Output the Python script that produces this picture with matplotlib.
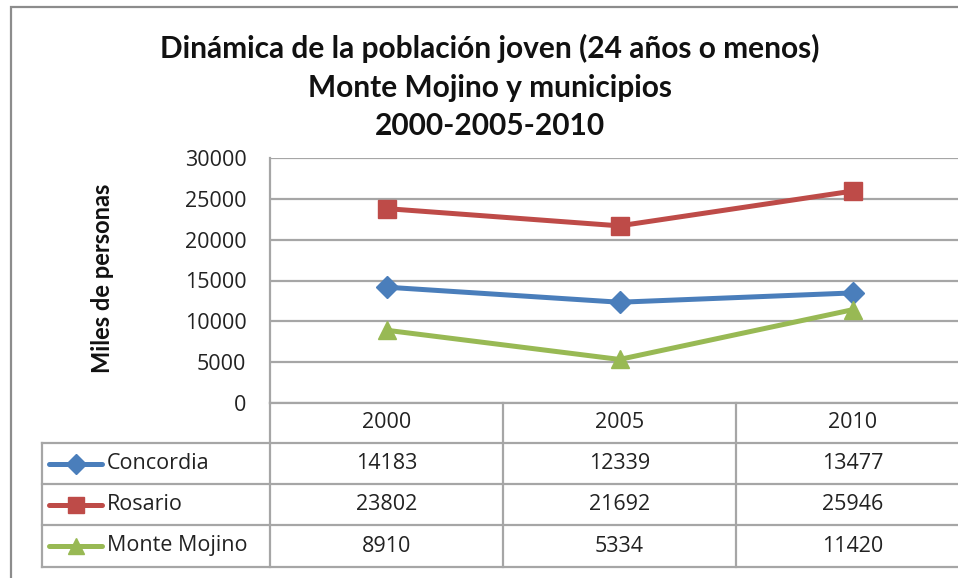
import matplotlib
matplotlib.use("Agg")
import matplotlib.pyplot as plt
from matplotlib.lines import Line2D
from matplotlib.patches import Rectangle
from matplotlib.transforms import blended_transform_factory

# Data
years = ["2000", "2005", "2010"]
series_names = ["Concordia", "Rosario", "Monte Mojino"]
concordia = [14183, 12339, 13477]
rosario = [23802, 21692, 25946]
monte_mojino = [8910, 5334, 11420]
y_ticks = [0, 5000, 10000, 15000, 20000, 25000, 30000]

series_values = [concordia, rosario, monte_mojino]
colors = ["#4A7EBB", "#BE4B48", "#98B954"]
markers = ["D", "s", "^"]
marker_sizes = [11, 13, 13]

W, H = 958, 578
DPI = 100
TITLE_FONT = "Lato"
BODY_FONT = "Open Sans"
BODY_SIZE = 15.5
GRID = "#A6A6A6"
TEXT = "#222222"

fig = plt.figure(figsize=(W / DPI, H / DPI), dpi=DPI)
fig.patch.set_facecolor("white")


def fx(px):
    return px / W


def fy(py):
    return 1 - py / H


# Outer chart frame (extends past the right and bottom edges)
fig.patches.append(Rectangle((fx(11), fy(640)), fx(1000), fy(7) - fy(640),
                             transform=fig.transFigure, fill=False,
                             edgecolor="#8C8C8C", linewidth=1.6))

# Plot area
left, right, top, bottom = 270, 969, 158, 403
ax = fig.add_axes([fx(left), fy(bottom), fx(right - left), fy(top) - fy(bottom)])
x = list(range(len(years)))
ax.set_xlim(-0.5, len(years) - 0.5)
ax.set_ylim(0, 30000)
ax.set_yticks(y_ticks)
ax.set_yticklabels([str(t) for t in y_ticks], fontsize=BODY_SIZE, family=BODY_FONT, color=TEXT)
ax.set_xticks([])
ax.tick_params(axis="y", length=0, pad=17)
ax.grid(axis="y", color=GRID, linewidth=1.6)
ax.set_axisbelow(True)
for side in ["top", "right", "bottom"]:
    ax.spines[side].set_visible(False)
ax.spines["left"].set_color(GRID)
ax.spines["left"].set_linewidth(1.6)

for vals, c, m, ms in zip(series_values, colors, markers, marker_sizes):
    ax.plot(x, vals, color=c, linewidth=3.6, marker=m, markersize=ms,
            markerfacecolor=c, markeredgecolor=c, solid_capstyle="round", zorder=3)

# Titles
title_lines = ["Dinámica de la población joven (24 años o menos)",
               "Monte Mojino y municipios",
               "2000-2005-2010"]
for line, py in zip(title_lines, [48, 88, 126]):
    fig.text(fx(490), fy(py), line, ha="center", va="center", fontsize=21.5,
             fontweight="bold", family=TITLE_FONT, color="#111111")

fig.text(fx(103), fy(278), "Miles de personas", rotation=90, ha="center", va="center",
         fontsize=17, fontweight="bold", family=TITLE_FONT, color="#111111")

# Data table below the plot
trans = blended_transform_factory(ax.transData, fig.transFigure)
row_edges = [403, 443, 484, 525, 567]
table_left = 42
lw = 1.6

# Horizontal rules
fig.lines.append(Line2D([fx(left), fx(1000)], [fy(row_edges[0])] * 2,
                        transform=fig.transFigure, color=GRID, linewidth=lw))
for py in row_edges[1:]:
    fig.lines.append(Line2D([fx(table_left), fx(1000)], [fy(py)] * 2,
                            transform=fig.transFigure, color=GRID, linewidth=lw))
# Vertical rules
fig.lines.append(Line2D([fx(table_left)] * 2, [fy(row_edges[1]), fy(row_edges[-1])],
                        transform=fig.transFigure, color=GRID, linewidth=lw))
for i in range(len(years) + 1):
    xb = i - 0.5
    fig.lines.append(Line2D([xb, xb], [fy(row_edges[0]), fy(row_edges[-1])],
                            transform=trans, color=GRID, linewidth=lw,
                            clip_on=False))

# Header row
hy = fy((row_edges[0] + row_edges[1]) / 2)
for i, yr in enumerate(years):
    fig.text(i, hy, yr, transform=trans, ha="center", va="center",
             fontsize=BODY_SIZE, family=BODY_FONT, color=TEXT)

# Series rows
for r, (name, vals, c, m, ms) in enumerate(zip(series_names, series_values,
                                               colors, markers, marker_sizes)):
    cy = fy((row_edges[r + 1] + row_edges[r + 2]) / 2)
    fig.lines.append(Line2D([fx(49), fx(102)], [cy, cy], transform=fig.transFigure,
                            color=c, linewidth=3.6, solid_capstyle="round"))
    fig.lines.append(Line2D([fx(75.5)], [cy], transform=fig.transFigure,
                            marker=m, markersize=ms - 1, color=c, markeredgecolor=c,
                            linestyle="none"))
    fig.text(fx(107), cy, name, ha="left", va="center", fontsize=BODY_SIZE,
             family=BODY_FONT, color=TEXT)
    for i, v in enumerate(vals):
        fig.text(i, cy, str(v), transform=trans, ha="center", va="center",
                 fontsize=BODY_SIZE, family=BODY_FONT, color=TEXT)

fig.savefig("out.png", dpi=DPI, facecolor="white")
